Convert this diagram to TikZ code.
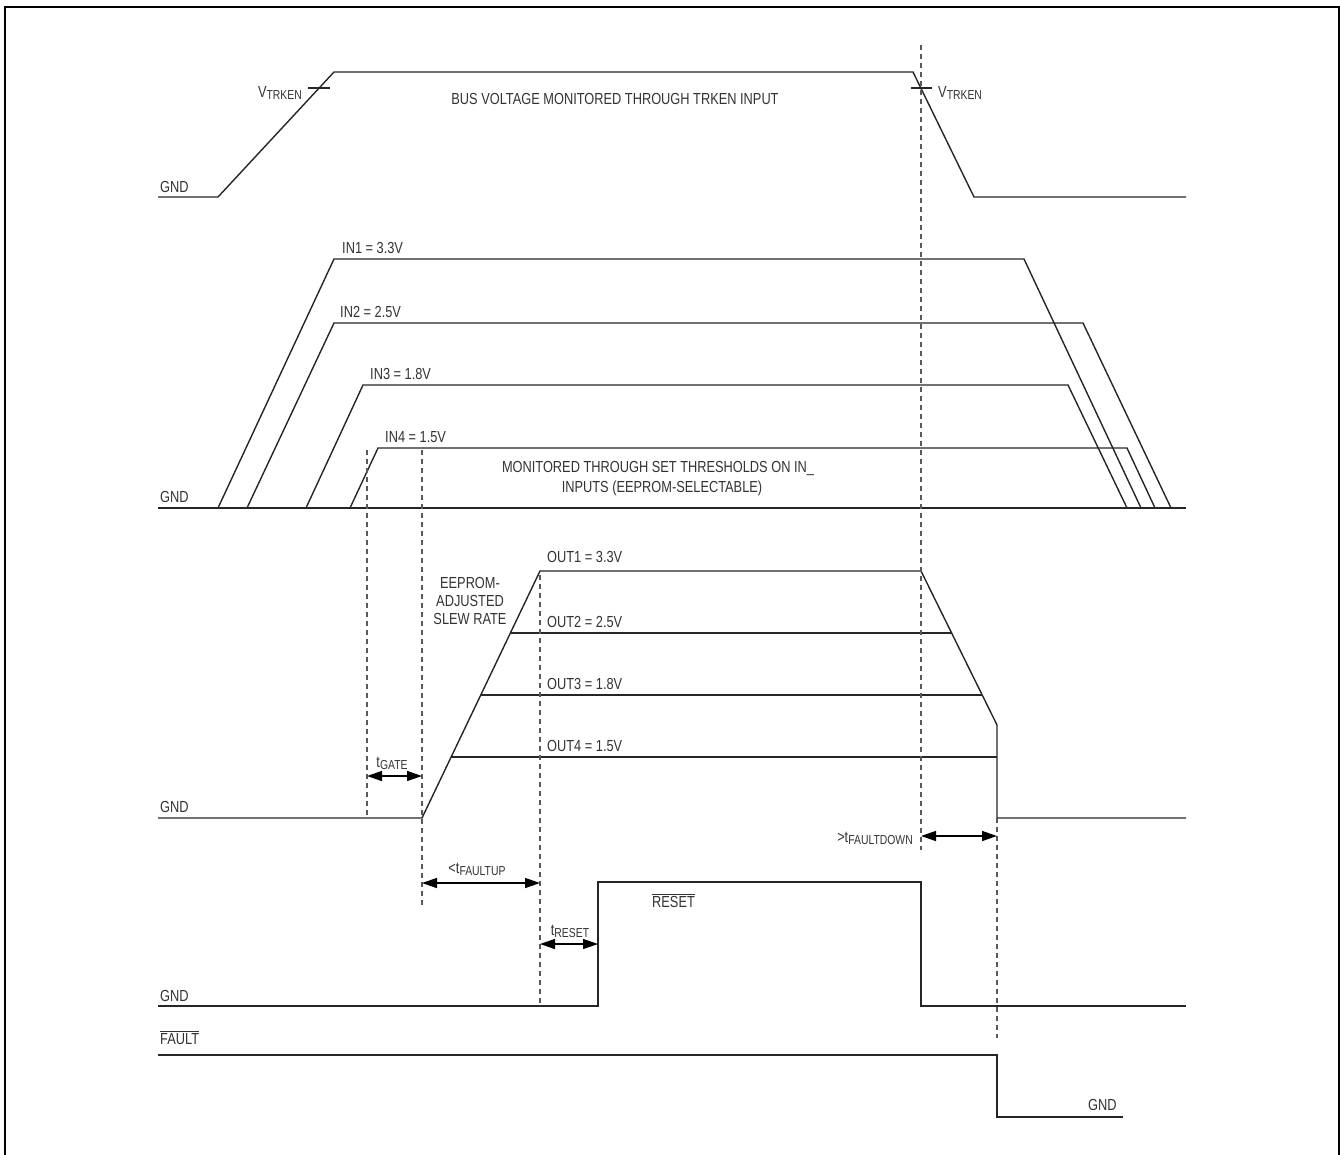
\documentclass[tikz,border=0pt]{standalone}
\usepackage{fontspec}
\setmainfont{Liberation Sans}[FakeStretch=0.8]
\usetikzlibrary{arrows.meta}
\newcommand\mysub[1]{\raisebox{-0.18em}{\fontsize{13}{13}\selectfont #1}}
\newcommand\ovl[1]{$\overline{\mbox{#1}}$}
\begin{document}
\begin{tikzpicture}[x=1pt,y=-1pt,
  wave/.style={line width=1.4pt, draw=black!85, line join=miter},
  guide/.style={line width=1.1pt, draw=black!65, dash pattern=on 5pt off 4pt},
  lbl/.style={inner sep=0pt, font=\fontsize{16}{19}\selectfont, text=black!80},
  dim/.style={line width=1.4pt, draw=black, {Triangle[length=15pt,width=10pt]}-{Triangle[length=15pt,width=10pt]}}]
\useasboundingbox (0,0) rectangle (1340,1154);
\draw[line width=2pt] (5,1160) -- (5,7) -- (1339,7) -- (1339,1160);

% ---- Row 1: TRKEN
\draw[wave] (158,197) -- (218,197) -- (334,72) -- (913,72) -- (974,197) -- (1186,197);
\draw[wave] (308,88) -- (330,88);
\draw[wave] (911,88) -- (932,88);
\node[lbl, anchor=base east] (vtl) at (302,97) {V\mysub{TRKEN}};
\node[lbl, anchor=base west] (vtr) at (938,97) {V\mysub{TRKEN}};
\node[lbl, anchor=base] (bus) at (615,104) {BUS VOLTAGE MONITORED THROUGH TRKEN INPUT};
\node[lbl, anchor=base west] (g1) at (160,192) {GND};

% ---- Row 2: IN
\draw[wave] (158,508) -- (1127,508);
\draw[wave] (1127,508) -- (1186,508);
\draw[wave] (218,508) -- (334,259) -- (1024,259) -- (1141,508);
\draw[wave] (247,508) -- (334,323) -- (1083,323) -- (1171,508);
\draw[wave] (306,508) -- (363,385) -- (1068,385) -- (1127,508);
\draw[wave] (350,508) -- (378,448) -- (1127,448) -- (1155,508);
\node[lbl, anchor=base west] (in1) at (342,253) {IN1 = 3.3V};
\node[lbl, anchor=base west] (in2) at (340,317) {IN2 = 2.5V};
\node[lbl, anchor=base west] (in3) at (370,379) {IN3 = 1.8V};
\node[lbl, anchor=base west] (in4) at (385,442) {IN4 = 1.5V};
\node[lbl, anchor=base] (mon1) at (658,472) {MONITORED THROUGH SET THRESHOLDS ON IN\_};
\node[lbl, anchor=base] (mon2) at (662,492) {INPUTS (EEPROM-SELECTABLE)};
\node[lbl, anchor=base west] (g2) at (160,502) {GND};

% ---- Row 3: OUT
\draw[wave] (158,818) -- (422,818) -- (540,571) -- (921,571) -- (997,725) -- (997,818) -- (1186,818);
\draw[wave] (510,633) -- (951,633);
\draw[wave] (481,695) -- (982,695);
\draw[wave] (451,757) -- (997,757);
\node[lbl, anchor=base west] (o1) at (547,562) {OUT1 = 3.3V};
\node[lbl, anchor=base west] (o2) at (547,627) {OUT2 = 2.5V};
\node[lbl, anchor=base west] (o3) at (547,689) {OUT3 = 1.8V};
\node[lbl, anchor=base west] (o4) at (547,751) {OUT4 = 1.5V};
\node[lbl, anchor=base] (ee1) at (470,588) {EEPROM-};
\node[lbl, anchor=base] (ee2) at (470,606) {ADJUSTED};
\node[lbl, anchor=base] (ee3) at (470,624) {SLEW RATE};
\node[lbl, anchor=base west] (g3) at (160,812) {GND};

% ---- Row 4: RESET
\draw[wave] (158,1006) -- (598,1006) -- (598,882) -- (921,882) -- (921,1006) -- (1186,1006);
\node[lbl, anchor=base west] (rst) at (652,907) {\ovl{RESET}};
\node[lbl, anchor=base west] (g4) at (160,1001) {GND};

% ---- Row 5: FAULT
\draw[wave] (158,1055) -- (997,1055) -- (997,1117) -- (1123,1117);
\node[lbl, anchor=base west] (flt) at (160,1044) {\ovl{FAULT}};
\node[lbl, anchor=base west] (g5) at (1088,1110) {GND};

% ---- guide lines
\coordinate (d1t) at (921,45);   \coordinate (d1b) at (921,850);
\coordinate (d2t) at (367,450);  \coordinate (d2b) at (367,818);
\coordinate (d3t) at (422,450);  \coordinate (d3b) at (422,905);
\coordinate (d4t) at (540,575);  \coordinate (d4b) at (540,1005);
\coordinate (d5t) at (997,818);  \coordinate (d5b) at (997,1038);
\foreach \a/\b in {d1t/d1b,d2t/d2b,d3t/d3b,d4t/d4b,d5t/d5b}
  \draw[guide] (\a) -- (\b);

% ---- timing arrows
\coordinate (ga) at (367,776);  \coordinate (gb) at (422,776);
\coordinate (fa) at (422,883);  \coordinate (fb) at (540,883);
\coordinate (ra) at (540,944);  \coordinate (rb) at (598,944);
\coordinate (da) at (921,836);  \coordinate (db) at (997,836);
\draw[dim] (ga) -- (gb);
\draw[dim] (fa) -- (fb);
\draw[dim] (ra) -- (rb);
\draw[dim] (da) -- (db);
\node[lbl, anchor=base] (tg) at (392,767) {t\mysub{GATE}};
\node[lbl, anchor=base] (tfu) at (477,873) {<t\mysub{FAULTUP}};
\node[lbl, anchor=base] (tr) at (570,935) {t\mysub{RESET}};
\node[lbl, anchor=base east] (tfd) at (913,842) {>t\mysub{FAULTDOWN}};
\end{tikzpicture}
\end{document}
